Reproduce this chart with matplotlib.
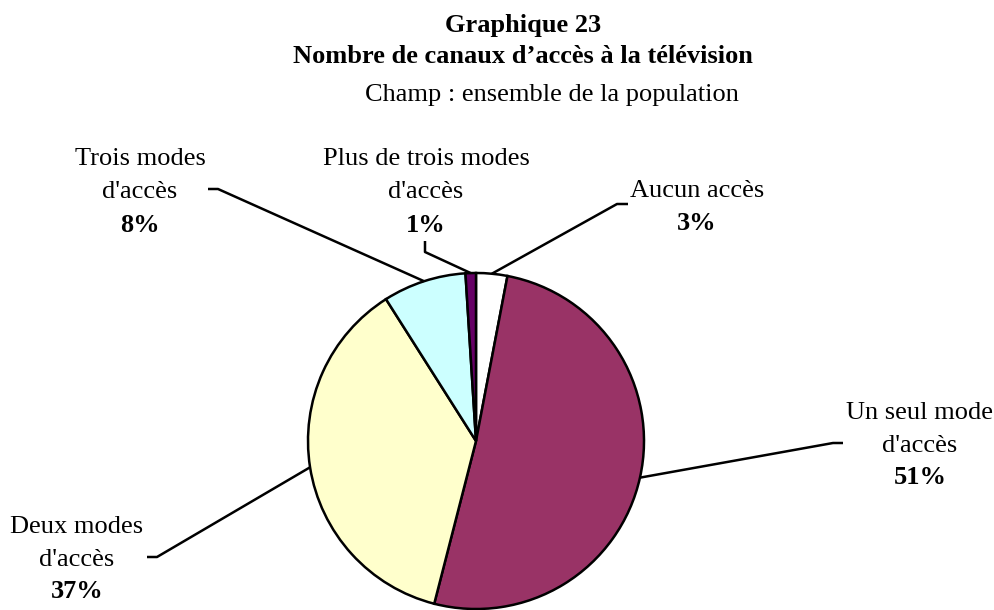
import numpy as np
import matplotlib
matplotlib.use("Agg")
import matplotlib.pyplot as plt

# ---- data ----
categories = ["Aucun accès", "Un seul mode\nd'accès", "Deux modes\nd'accès",
              "Trois modes\nd'accès", "Plus de trois modes\nd'accès"]
values = [3, 51, 37, 8, 1]
pct_labels = ["3%", "51%", "37%", "8%", "1%"]
colors = ["#FFFFFF", "#993366", "#FFFFCC", "#CCFFFF", "#660066"]

title1 = "Graphique 23"
title2 = "Nombre de canaux d\u2019accès à la télévision"
subtitle = "Champ : ensemble de la population"

# ---- layout (pixel coordinates, y from top) ----
W, H = 995, 610
cx, cy, R = 476, 441, 168
# label anchor: x center, baseline of last name line, baseline of pct
label_pos = [(697, 197, 230), (920, 452, 484), (77, 566, 598),
             (140, 198, 232), (426, 198, 232)]
LINE_STEP = 33
# leader line label-side points: (start, knee)
leader = [((628, 204), (617, 204)),
          ((843, 443), (833, 443)),
          ((147, 557), (157, 557)),
          ((208, 189), (218, 189)),
          ((425, 241), (425, 252))]

FS = 19
FONT = ["Liberation Serif", "DejaVu Serif"]

def Y(y):
    return H - y

fig = plt.figure(figsize=(W / 100, H / 100), dpi=100)
ax = fig.add_axes([0, 0, 1, 1])

wedges, _ = ax.pie(values, colors=colors, startangle=90, counterclock=False,
                   center=(cx, Y(cy)), radius=R,
                   wedgeprops=dict(edgecolor="black", linewidth=1.8))
ax.set_xlim(0, W)
ax.set_ylim(0, H)
ax.set_aspect("auto")
ax.axis("off")

for i, w in enumerate(wedges):
    mid = np.deg2rad((w.theta1 + w.theta2) / 2)
    ex = cx + R * np.cos(mid)
    ey = Y(cy) + R * np.sin(mid)
    (sx, sy), (kx, ky) = leader[i]
    ax.plot([sx, kx, ex], [Y(sy), Y(ky), ey], color="black", lw=1.8,
            solid_capstyle="butt", zorder=5)
    lx, lb, pb = label_pos[i]
    lines = categories[i].split("\n")
    n = len(lines)
    for j, line in enumerate(lines):
        ax.text(lx, Y(lb - (n - 1 - j) * LINE_STEP), line, ha="center",
                va="baseline", fontsize=FS, family=FONT)
    ax.text(lx, Y(pb), pct_labels[i], ha="center", va="baseline",
            fontsize=FS, family=FONT, fontweight="bold")

ax.text(523, Y(32), title1, ha="center", va="baseline", fontsize=FS,
        family=FONT, fontweight="bold")
ax.text(523, Y(63), title2, ha="center", va="baseline", fontsize=FS,
        family=FONT, fontweight="bold")
ax.text(552, Y(101), subtitle, ha="center", va="baseline", fontsize=FS,
        family=FONT)

fig.savefig("out.png", dpi=100)
